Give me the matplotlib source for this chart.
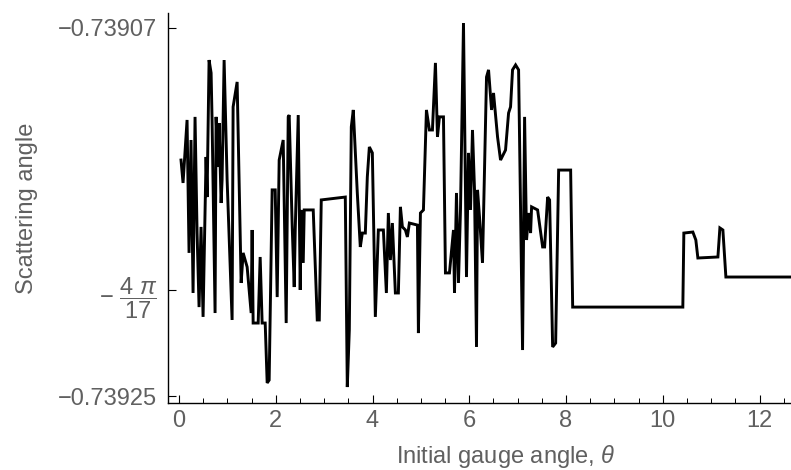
import numpy as np
import matplotlib
matplotlib.use("Agg")
import matplotlib.pyplot as plt
from matplotlib.ticker import FixedLocator, MultipleLocator

# Initial gauge angle (theta) and scattering angle
theta = [0.041, 0.083, 0.166, 0.207, 0.248, 0.290, 0.331, 0.373, 0.414, 0.455,
         0.497, 0.559, 0.580, 0.621, 0.663, 0.683, 0.745, 0.766, 0.807, 0.828,
         0.870, 0.890, 0.932, 0.973, 0.994, 1.097, 1.118, 1.201, 1.284, 1.325,
         1.408, 1.491, 1.511, 1.532, 1.636, 1.677, 1.718, 1.781, 1.822, 1.863,
         1.925, 1.988, 2.029, 2.070, 2.153, 2.215, 2.257, 2.277, 2.340, 2.381,
         2.402, 2.464, 2.505, 2.526, 2.567, 2.588, 2.774, 2.857, 2.899, 2.940,
         3.437, 3.478, 3.520, 3.561, 3.602, 3.685, 3.747, 3.789, 3.851, 3.892,
         3.934, 3.996, 4.058, 4.120, 4.224, 4.286, 4.327, 4.369, 4.410, 4.472,
         4.534, 4.576, 4.617, 4.679, 4.720, 4.762, 4.928, 4.948, 4.990, 5.052,
         5.114, 5.176, 5.238, 5.300, 5.342, 5.383, 5.466, 5.507, 5.590, 5.673,
         5.694, 5.735, 5.776, 5.818, 5.880, 5.942, 5.983, 6.025, 6.066, 6.108,
         6.149, 6.170, 6.211, 6.273, 6.356, 6.398, 6.460, 6.501, 6.584, 6.646,
         6.749, 6.812, 6.853, 6.894, 6.957, 7.019, 7.101, 7.143, 7.184, 7.226,
         7.267, 7.288, 7.412, 7.516, 7.557, 7.619, 7.660, 7.723, 7.785, 7.847,
         8.095, 8.137, 10.414, 10.435, 10.621, 10.683, 10.725, 11.139, 11.180, 11.242,
         11.304, 12.650]

scattering = [-0.7391346, -0.7391458, -0.7391150, -0.7391800, -0.7391248, -0.7391996, -0.7391135, -0.7391703, -0.7392065, -0.7391673,
              -0.7392113, -0.7391331, -0.7391527, -0.7390857, -0.7390920, -0.7391150, -0.7392094, -0.7391135, -0.7391380, -0.7391165,
              -0.7391556, -0.7391443, -0.7390857, -0.7391248, -0.7391443, -0.7392128, -0.7391086, -0.7390964, -0.7391947, -0.7391800,
              -0.7391869, -0.7392094, -0.7391688, -0.7392143, -0.7392143, -0.7391820, -0.7392143, -0.7392143, -0.7392436, -0.7392422,
              -0.7391492, -0.7391492, -0.7392016, -0.7391346, -0.7391248, -0.7392143, -0.7391135, -0.7391126, -0.7391673, -0.7391967,
              -0.7391688, -0.7391126, -0.7391981, -0.7391590, -0.7391849, -0.7391590, -0.7391590, -0.7392128, -0.7392128, -0.7391541,
              -0.7391527, -0.7392456, -0.7392177, -0.7391184, -0.7391101, -0.7391507, -0.7391771, -0.7391703, -0.7391703, -0.7391429,
              -0.7391282, -0.7391311, -0.7392113, -0.7391688, -0.7391688, -0.7391996, -0.7391605, -0.7391835, -0.7391654, -0.7391996,
              -0.7391996, -0.7391575, -0.7391673, -0.7391688, -0.7391722, -0.7391654, -0.7391664, -0.7392192, -0.7391605, -0.7391590,
              -0.7391101, -0.7391199, -0.7391199, -0.7390871, -0.7391233, -0.7391135, -0.7391135, -0.7391898, -0.7391898, -0.7391688,
              -0.7391996, -0.7391507, -0.7391947, -0.7391590, -0.7390676, -0.7391918, -0.7391311, -0.7391590, -0.7391199, -0.7391492,
              -0.7392260, -0.7391492, -0.7391624, -0.7391849, -0.7390940, -0.7390905, -0.7391101, -0.7391018, -0.7391233, -0.7391346,
              -0.7391297, -0.7391116, -0.7391086, -0.7390905, -0.7390881, -0.7390905, -0.7392275, -0.7391135, -0.7391737, -0.7391605,
              -0.7391703, -0.7391575, -0.7391590, -0.7391771, -0.7391771, -0.7391527, -0.7391541, -0.7392260, -0.7392241, -0.7391395,
              -0.7391395, -0.7392065, -0.7392065, -0.7391703, -0.7391698, -0.7391737, -0.7391825, -0.7391820, -0.7391678, -0.7391688,
              -0.7391918, -0.7391918]

x_ticks = [0, 2, 4, 6, 8, 10, 12]
x_tick_labels = ["0", "2", "4", "6", "8", "10", "12"]
y_ticks = [-0.73925, -4 * np.pi / 17, -0.73907]
y_tick_labels = ["\u22120.73925", r"$-\ \dfrac{4\ \pi}{17}$", "\u22120.73907"]

plt.rcParams['font.family'] = ['Liberation Sans', 'DejaVu Sans']
plt.rcParams['mathtext.fontset'] = 'custom'
plt.rcParams['mathtext.rm'] = 'Liberation Sans'
plt.rcParams['mathtext.it'] = 'Liberation Sans:italic'

W, H = 791, 470
fig = plt.figure(figsize=(W / 100, H / 100), dpi=100)
ax = fig.add_axes([168 / W, (H - 403) / H, (W - 168) / W, (403 - 13) / H])

ax.plot(theta, scattering, color="black", lw=2.1, solid_joinstyle="miter")

ax.set_xlim(-0.228, 12.65)
ax.set_ylim(-0.7392534, -0.7390627)

gray = "#606060"
ax.xaxis.set_major_locator(FixedLocator(x_ticks))
ax.set_xticklabels(x_tick_labels)
ax.xaxis.set_minor_locator(MultipleLocator(0.5))
ax.yaxis.set_major_locator(FixedLocator(y_ticks))
ax.set_yticklabels(y_tick_labels)

ax.tick_params(axis="both", which="major", direction="in", length=6, width=0.8,
               colors="black", labelcolor=gray, labelsize=17)
ax.tick_params(axis="x", which="minor", direction="in", length=3.5, width=0.7, color="black")
ax.tick_params(axis="x", pad=5)
ax.tick_params(axis="y", pad=8)

for s in ["top", "right"]:
    ax.spines[s].set_visible(False)
for s in ["left", "bottom"]:
    ax.spines[s].set_color("black")
    ax.spines[s].set_linewidth(1.0)

ax.set_xlabel("Initial gauge angle, $\\mathit{\\theta}$", color=gray, fontsize=17)
ax.set_ylabel("Scattering angle", color=gray, fontsize=17)
ax.xaxis.set_label_coords((506 - 168) / (W - 168), -(457 - 403) / (403 - 13))
ax.yaxis.set_label_coords(-(168 - 27) / (W - 168), 0.5)
ax.xaxis.label.set_va("center")
ax.yaxis.label.set_va("center")

fig.savefig("out.png", dpi=100)
